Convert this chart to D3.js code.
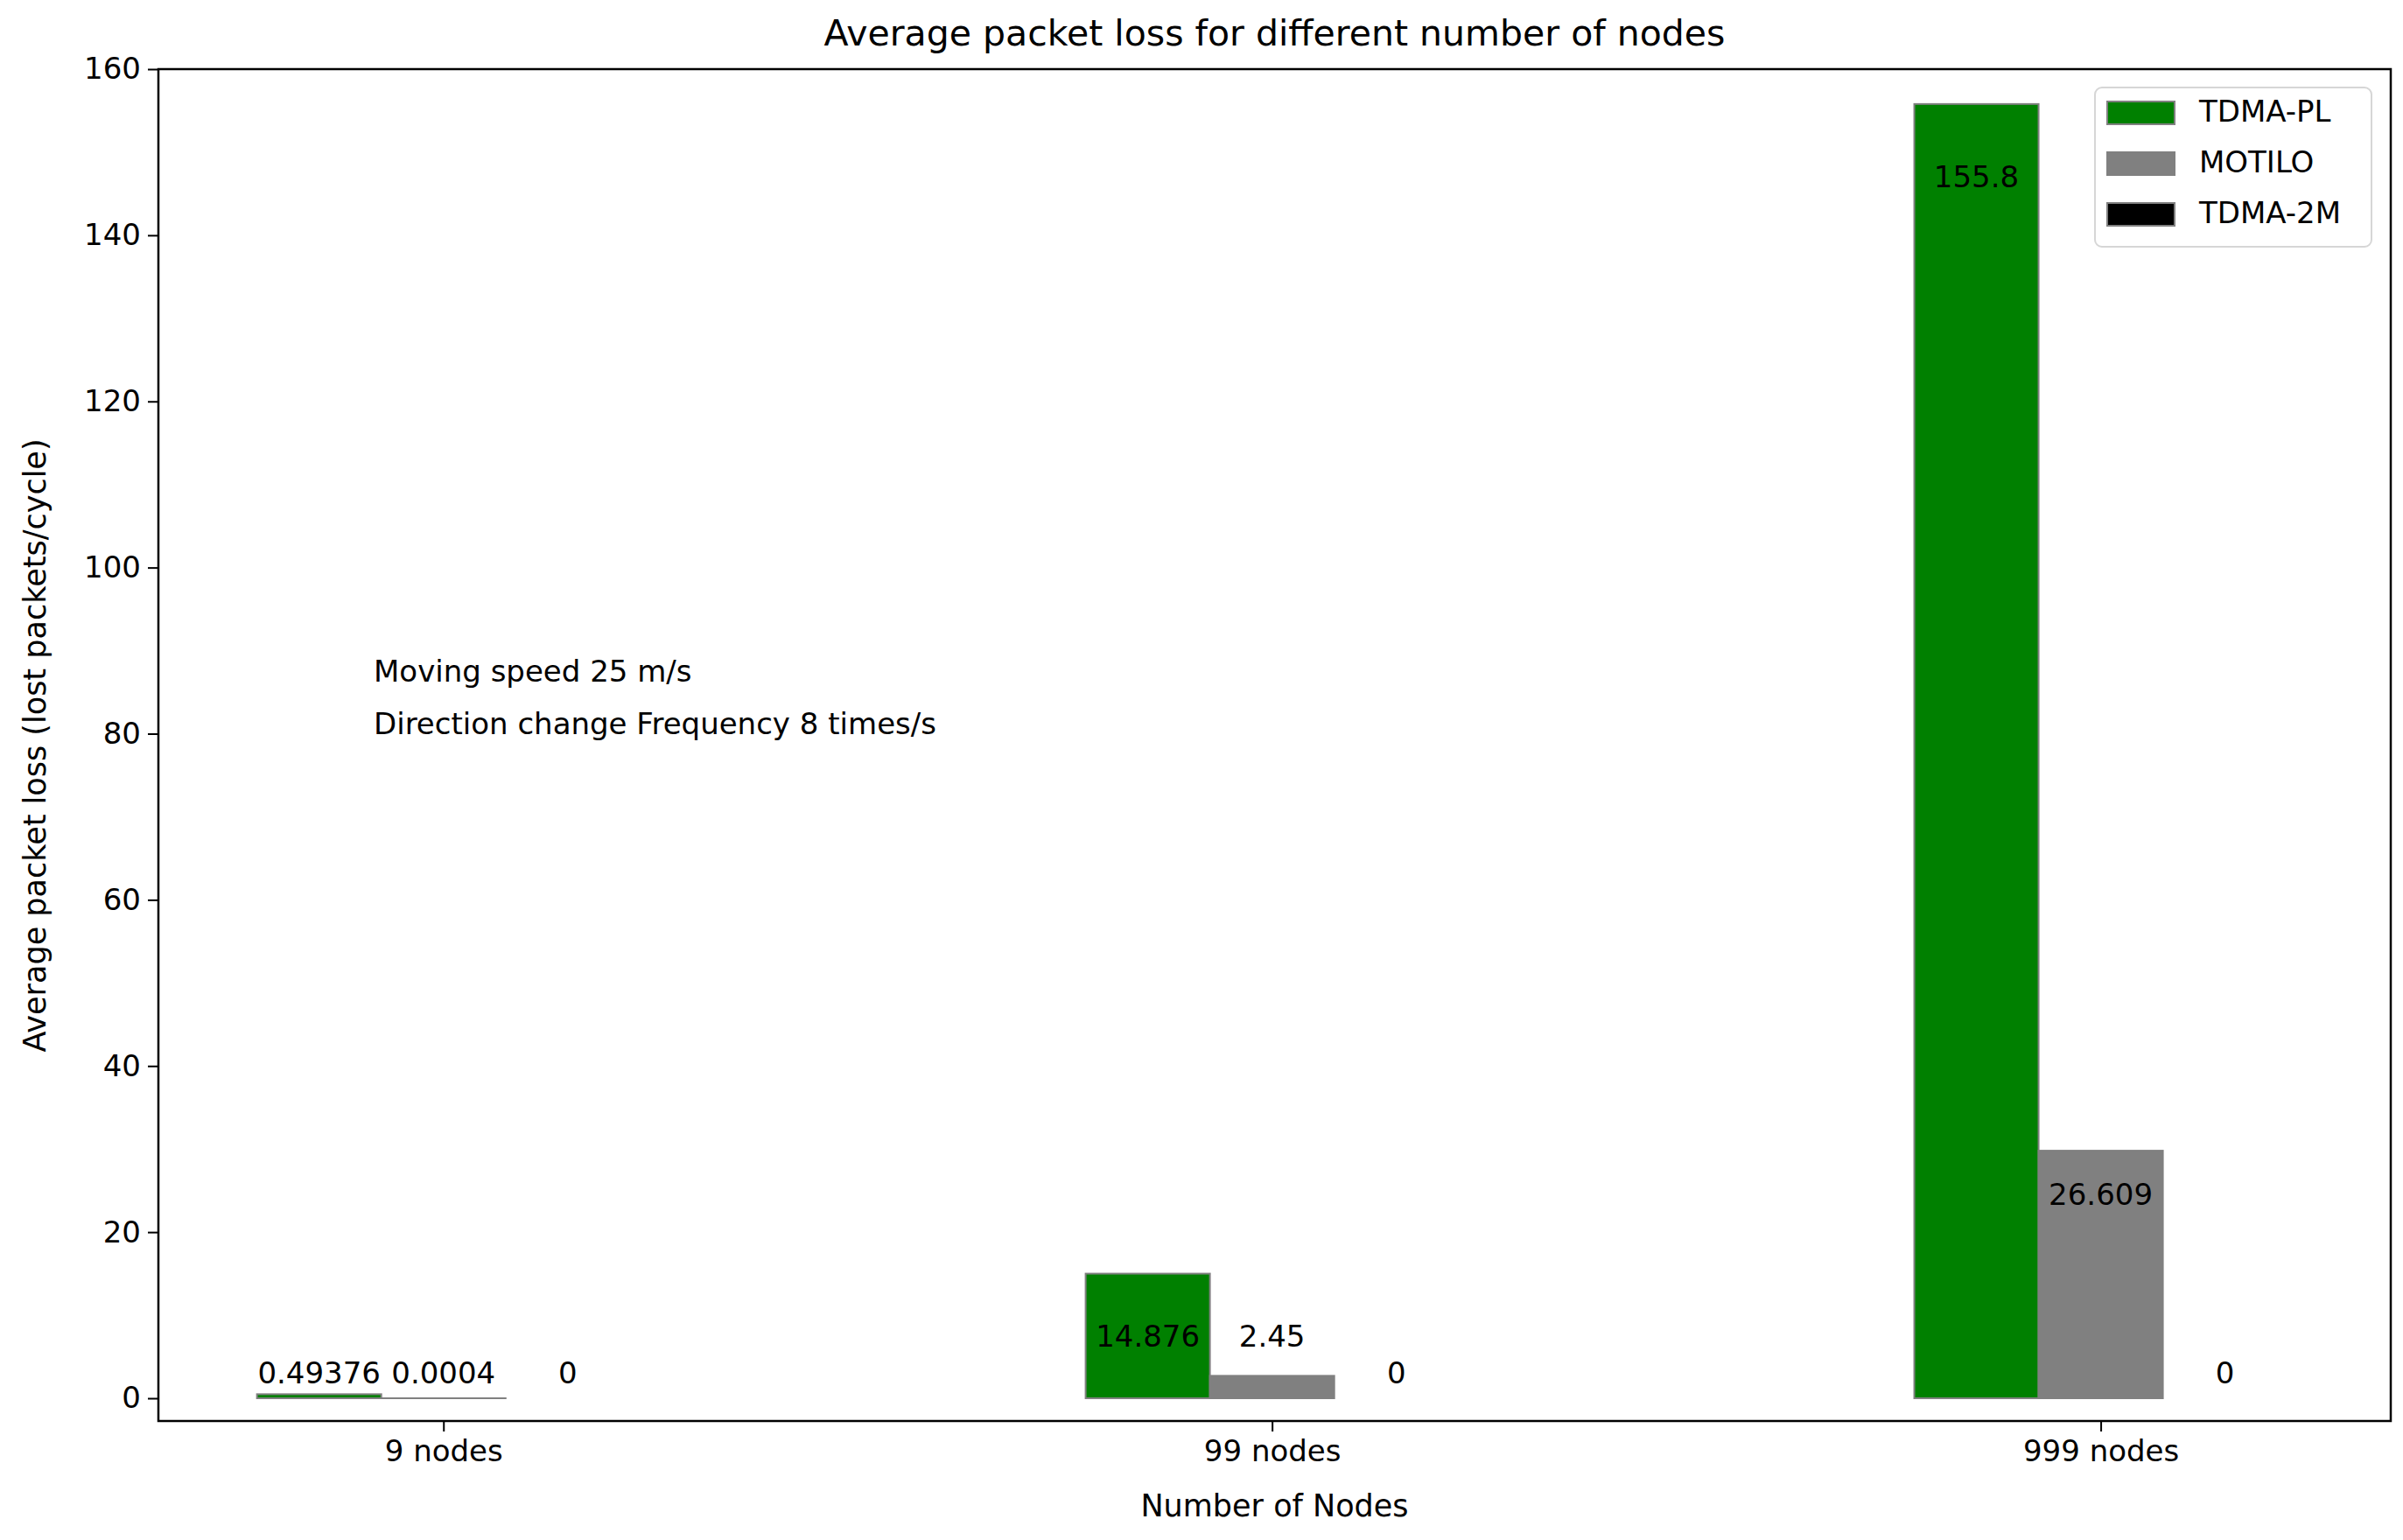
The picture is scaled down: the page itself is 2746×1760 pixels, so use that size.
<!DOCTYPE html>
<html><head><meta charset="utf-8">
<script src="https://cdn.jsdelivr.net/npm/d3@7"></script>
<style>body{margin:0;background:#fff}text{font-family:"DejaVu Sans",sans-serif;fill:#000}</style>
</head><body>
<svg id="c" width="2746" height="1760"></svg>
<script>
// chart data
var categories = ["9 nodes", "99 nodes", "999 nodes"];
var series = ["TDMA-PL", "MOTILO", "TDMA-2M"];
var colors = ["#008000", "#808080", "#000000"];
// bar heights as drawn
var tdmaPL = [0.49, 15.0, 155.8];
var motilo = [0.0004, 2.7, 29.8];
var tdma2M = [0, 0, 0];
// printed labels and where they sit (data units)
var labelsPL = ["0.49376", "14.876", "155.8"];
var labelsMO = ["0.0004", "2.45", "26.609"];
var labels2M = ["0", "0", "0"];
var labelYPL = [2.8, 7.2, 146.8];
var labelYMO = [2.8, 7.2, 24.3];
var labelY2M = [2.8, 2.8, 2.8];
var yTicks = [0, 20, 40, 60, 80, 100, 120, 140, 160];

var mLeft = 181, mRight = 2732, mTop = 79, mBottom = 1624;
var svg = d3.select("#c");

var y = d3.scaleLinear().domain([0, 160]).range([1598, 79]);
var x = d3.scaleLinear().domain([-0.344, 2.35]).range([mLeft, mRight]);
var bw = x(0.15) - x(0);

var all = [tdmaPL, motilo, tdma2M];
var labs = [labelsPL, labelsMO, labels2M];
var labYs = [labelYPL, labelYMO, labelY2M];

all.forEach(function(vals, s) {
  var off = (s - 1) * bw;
  svg.append("g").selectAll("rect").data(vals).enter().append("rect")
    .attr("x", function(d, i) { return x(i) + off - bw / 2; })
    .attr("width", bw)
    .attr("y", function(d) { return y(d); })
    .attr("height", function(d) { return Math.max(0, y(0) - y(d)); })
    .attr("fill", colors[s])
    .attr("stroke", "#808080").attr("stroke-width", 2);
  svg.append("g").selectAll("text").data(labs[s]).enter().append("text")
    .attr("x", function(d, i) { return x(i) + off; })
    .attr("y", function(d, i) { return y(labYs[s][i]); })
    .attr("text-anchor", "middle").attr("dominant-baseline", "middle")
    .style("font-size", "34px")
    .text(function(d) { return d; });
});

// axes
var yAxis = svg.append("g").attr("transform", "translate(" + mLeft + ",0)")
  .call(d3.axisLeft(y).tickValues(yTicks).tickSize(12).tickPadding(8));
var xAxis = svg.append("g").attr("transform", "translate(0," + mBottom + ")")
  .call(d3.axisBottom(x).tickValues([0, 1, 2]).tickFormat(function(d) { return categories[d]; }).tickSize(12).tickPadding(10));
[yAxis, xAxis].forEach(function(a) {
  a.selectAll("text").style("font-size", "34px").style("font-family", "DejaVu Sans");
  a.selectAll("line").attr("stroke-width", 2);
  a.select(".domain").remove();
});
svg.append("rect").attr("x", mLeft).attr("y", mTop).attr("width", mRight - mLeft).attr("height", mBottom - mTop)
  .attr("fill", "none").attr("stroke", "#000").attr("stroke-width", 2.5);

// titles
svg.append("text").attr("x", (mLeft + mRight) / 2).attr("y", 52).attr("text-anchor", "middle")
  .style("font-size", "41px").text("Average packet loss for different number of nodes");
svg.append("text").attr("x", (mLeft + mRight) / 2).attr("y", 1733).attr("text-anchor", "middle")
  .style("font-size", "35px").text("Number of Nodes");
svg.append("text").attr("transform", "translate(52,852) rotate(-90)").attr("text-anchor", "middle")
  .style("font-size", "35px").text("Average packet loss (lost packets/cycle)");

// annotation
svg.append("text").attr("x", 427).attr("y", y(87.3)).attr("dominant-baseline", "middle")
  .style("font-size", "34px").text("Moving speed 25 m/s");
svg.append("text").attr("x", 427).attr("y", y(81.0)).attr("dominant-baseline", "middle")
  .style("font-size", "34px").text("Direction change Frequency 8 times/s");

// legend
var lg = svg.append("g").attr("transform", "translate(2394,100)");
lg.append("rect").attr("width", 316).attr("height", 182).attr("rx", 8)
  .attr("fill", "#fff").attr("stroke", "#d6d6d6").attr("stroke-width", 2);
series.forEach(function(name, i) {
  lg.append("rect").attr("x", 14).attr("y", 16 + i * 58).attr("width", 77).attr("height", 26)
    .attr("fill", colors[i]).attr("stroke", "#808080").attr("stroke-width", 2);
  lg.append("text").attr("x", 119).attr("y", 29 + i * 58).attr("dominant-baseline", "middle")
    .style("font-size", "34px").text(name);
});
</script>
</body></html>
